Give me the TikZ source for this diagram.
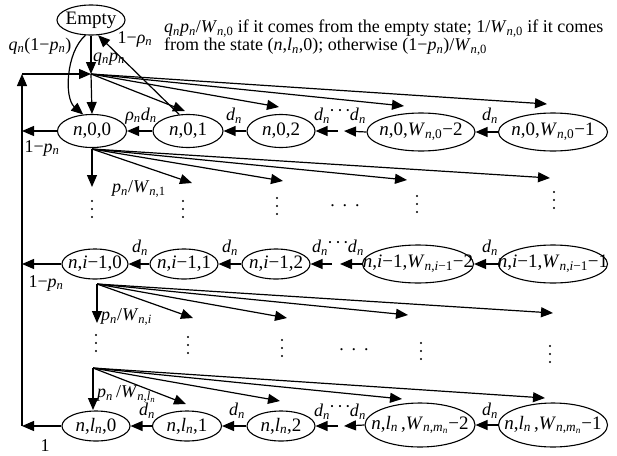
\documentclass[tikz,border=0pt]{standalone}
\usepackage{fontspec}
\setmainfont{Liberation Serif}
\usetikzlibrary{arrows.meta,shapes.geometric}
\newcommand\vi[1]{\textit{#1}}
\newcommand\nn{\textit{n}}
\newcommand\subn{\textsubscript{\textit{n}}}
\newcommand\Wsub[1]{\textit{W}\textsubscript{#1}}
\newcommand\dd{\vi{d}\subn}
\newcommand\ddd{\dd\hspace{-1pt}\raisebox{4pt}{·\hspace{2pt}·\hspace{2pt}·}\hspace{-1pt}\dd}
\newcommand\hdts{.\hspace{8pt}.\hspace{8pt}.}
\begin{document}
\begin{tikzpicture}[x=1pt,y=-1pt,
  every node/.style={font=\fontsize{18}{18}\selectfont},
  st/.style 2 args={ellipse,draw,line width=1.1pt,inner sep=0pt,minimum width=#1pt,minimum height=#2pt,font=\fontsize{19}{19}\selectfont},
  arr/.style={-{Triangle[length=12pt,width=10pt]},line width=1.2pt},
  lab/.style={inner sep=0pt},
  vdot/.style={fill,circle,inner sep=0pt,minimum size=2.4pt}]
\useasboundingbox (0,0) rectangle (617,455);

% nodes
\node[st={68}{30}] (E) at (91,20) {\makebox[0pt]{Empty}};
\node[st={69}{33}] (a00) at (92,131) {\makebox[0pt]{\nn,0,0}};
\node[st={70}{33}] (a01) at (188,131) {\makebox[0pt]{\nn,0,1}};
\node[st={68}{33}] (a02) at (281,131) {\makebox[0pt]{\nn,0,2}};
\node[st={108}{38}] (a0W2) at (421,132) {\makebox[0pt]{\nn,0,\Wsub{\nn,0}−2}};
\node[st={109}{38}] (a0W1) at (553,132) {\makebox[0pt]{\nn,0,\Wsub{\nn,0}−1}};

\node[st={66}{30}] (b0) at (95,264) {\makebox[0pt]{\nn,\vi{i}−1,0}};
\node[st={68}{30}] (b1) at (184,264) {\makebox[0pt]{\nn,\vi{i}−1,1}};
\node[st={68}{30}] (b2) at (276,264) {\makebox[0pt]{\nn,\vi{i}−1,2}};
\node[st={111}{38}] (bW2) at (418,264) {\makebox[0pt]{\nn,\vi{i}−1,\Wsub{\nn,\vi{i}−1}−2}};
\node[st={109}{38}] (bW1) at (553,264) {\makebox[0pt]{\nn,\vi{i}−1,\Wsub{\nn,\vi{i}−1}−1}};

\node[st={68}{30}] (c0) at (96,426) {\makebox[0pt]{\nn,\vi{l}\subn,0}};
\node[st={69}{30}] (c1) at (187,426) {\makebox[0pt]{\nn,\vi{l}\subn,1}};
\node[st={68}{30}] (c2) at (281,426) {\makebox[0pt]{\nn,\vi{l}\subn,2}};
\node[st={110}{44}] (cW2) at (420,425) {\makebox[0pt]{\nn,\vi{l}\subn\,,\Wsub{\nn,\vi{m}\subn}−2}};
\node[st={109}{44}] (cW1) at (553,425) {\makebox[0pt]{\nn,\vi{l}\subn\,,\Wsub{\nn,\vi{m}\subn}−1}};

% top text
\node[lab,anchor=north west,align=left] (txt) at (164,20)
  {\vi{q}\subn\vi{p}\subn/\Wsub{\nn,0} if it comes from the empty state; 1/\Wsub{\nn,0} if it comes\\
   from the state (\nn,\vi{l}\subn,0); otherwise (1−\vi{p}\subn)/\Wsub{\nn,0}};

% coordinates
\coordinate (hub) at (91,74);
\coordinate (LT) at (22,74);
\coordinate (L0) at (22,131);
\coordinate (L1) at (22,264);
\coordinate (L2) at (22,426);

% Empty edges
\draw[arr] (E.south) -- (hub);
\draw[arr] (E.250) .. controls (66,52) and (64,98) .. (a00.118);
\draw[arr] (a01.118) -- (E.295);
\node[lab] (lq1) at (40,46) {\vi{q}\subn(1−\vi{p}\subn)};
\node[lab] (lrho) at (135,39) {1−\vi{ρ}\subn};
\node[lab] (lqp) at (109,59) {\vi{q}\subn\vi{p}\subn};

% left loop
\draw[arr] (L2) -- (LT);
\draw[arr] (LT) -- (hub);
\draw[arr] (a00.west) -- (L0);
\draw[arr] (b0.west) -- (L1);
\draw[arr] (c0.west) -- (L2);
\node[lab] (l1p0) at (42,148) {1−\vi{p}\subn};
\node[lab] (l1p1) at (46,283) {1−\vi{p}\subn};
\node[lab] (lone) at (45,446) {1};

% hub fan
\coordinate (h1) at (185,111);
\coordinate (h2) at (279,107);
\coordinate (h3) at (404,106);
\coordinate (h4) at (547,104);
\draw[arr] (hub) -- (a00.north);
\foreach \t in {h1,h2,h3,h4} \draw[arr] (hub) -- (\t);

% row 0 horizontal
\coordinate (m0a) at (338,131);
\coordinate (m0b) at (344,131);
\draw[arr] (a01.west) -- (a00.east);
\draw[arr] (a02.west) -- (a01.east);
\draw[arr] (m0a) -- (a02.east);
\draw[arr] (a0W2.west) -- (m0b);
\draw[arr] (a0W1.west) -- (a0W2.east);
\node[lab] (r0l1) at (141,116) {\vi{ρ}\subn\dd};
\node[lab] (r0l2) at (234,116) {\dd};
\node[lab] (r0l3) at (340,116) {\ddd};
\node[lab] (r0l4) at (490,116) {\dd};

% row 1 fan
\coordinate (s1) at (92,149);
\coordinate (f10) at (92,187);
\coordinate (f11) at (192,183);
\coordinate (f12) at (283,181);
\coordinate (f13) at (407,180);
\coordinate (f14) at (550,178);
\foreach \t in {f10,f11,f12,f13,f14} \draw[arr] (s1) -- (\t);
\node[lab,anchor=west] (pw1) at (112,189) {\vi{p}\subn/\Wsub{\nn,1}};
\foreach \p/\q in {92/209,183/209,277/206,417/204,554/200}
  \foreach \d in {-8,0,8} \node[vdot] at (\p,\q+\d) {};
\node[lab] (hd1) at (345,206) {\hdts};

% row i-1 horizontal
\coordinate (m1a) at (332,264);
\coordinate (m1b) at (340,264);
\draw[arr] (b1.west) -- (b0.east);
\draw[arr] (b2.west) -- (b1.east);
\draw[arr] (m1a) -- (b2.east);
\draw[arr] (bW2.west) -- (m1b);
\draw[arr] (bW1.west) -- (bW2.east);
\node[lab] (r1l1) at (140,248) {\dd};
\node[lab] (r1l2) at (230,248) {\dd};
\node[lab] (r1l3) at (338,248) {\ddd};
\node[lab] (r1l4) at (490,248) {\dd};

% row 2 fan
\coordinate (s2) at (97,284);
\coordinate (f20) at (97,323);
\coordinate (f21) at (193,318);
\coordinate (f22) at (287,318);
\coordinate (f23) at (408,315);
\coordinate (f24) at (553,313);
\foreach \t in {f20,f21,f22,f23,f24} \draw[arr] (s2) -- (\t);
\node[lab,anchor=west] (pwi) at (101,317) {\vi{p}\subn/\Wsub{\nn,\vi{i}}};
\foreach \p/\q in {96/343,188/345,282/348,421/351,550/354}
  \foreach \d in {-8,0,8} \node[vdot] at (\p,\q+\d) {};
\node[lab] (hd2) at (354,350) {\hdts};

% row 3 fan
\coordinate (s3) at (93,368);
\coordinate (f30) at (93,410);
\coordinate (f31) at (186,404);
\coordinate (f32) at (280,401);
\coordinate (f33) at (402,399);
\coordinate (f34) at (545,398);
\foreach \t in {f30,f31,f32,f33,f34} \draw[arr] (s3) -- (\t);
\node[lab,anchor=west] (pwl) at (97,394) {\vi{p}\subn\,/\Wsub{\nn,\vi{l}\subn}};

% row l horizontal
\coordinate (m2a) at (338,426);
\coordinate (m2b) at (344,426);
\draw[arr] (c1.west) -- (c0.east);
\draw[arr] (c2.west) -- (c1.east);
\draw[arr] (m2a) -- (c2.east);
\draw[arr] (cW2.west) -- (m2b);
\draw[arr] (cW1.west) -- (cW2.east);
\node[lab] (r2l1) at (147,411) {\dd};
\node[lab] (r2l2) at (237,411) {\dd};
\node[lab] (r2l3) at (340,412) {\ddd};
\node[lab] (r2l4) at (490,411) {\dd};
\end{tikzpicture}
\end{document}
